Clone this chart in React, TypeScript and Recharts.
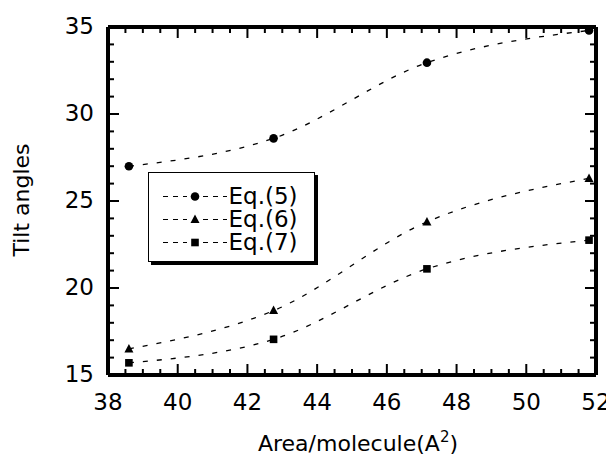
import React from 'react';
import { LineChart, Line, XAxis, YAxis, Legend } from 'recharts';

const FONT = '"DejaVu Sans", Verdana, sans-serif';

// Data
const areas = [38.6, 42.75, 47.15, 51.8];
const eq5 = [27.0, 28.6, 32.95, 34.8];
const eq6 = [16.5, 18.7, 23.8, 26.3];
const eq7 = [15.7, 17.05, 21.1, 22.75];
const seriesNames = ['Eq.(5)', 'Eq.(6)', 'Eq.(7)'];
const seriesKeys = ['eq5', 'eq6', 'eq7'];

// Tick values
const xTicks = [38, 38.5, 39, 39.5, 40, 40.5, 41, 41.5, 42, 42.5, 43, 43.5, 44, 44.5, 45, 45.5, 46, 46.5, 47, 47.5, 48, 48.5, 49, 49.5, 50, 50.5, 51, 51.5, 52];
const xLabelTicks = [38, 40, 42, 44, 46, 48, 50, 52];
const yTicks = [15, 16, 17, 18, 19, 20, 21, 22, 23, 24, 25, 26, 27, 28, 29, 30, 31, 32, 33, 34, 35];
const yLabelTicks = [15, 20, 25, 30, 35];

const data = areas.map((a, i) => ({ area: a, eq5: eq5[i], eq6: eq6[i], eq7: eq7[i] }));

const AX = { stroke: '#000', strokeWidth: 4 };

const marker = (i: number, cx: number, cy: number, key?: string) => {
  if (i === 0) return <circle key={key} cx={cx} cy={cy} r={4.3} fill="#000" />;
  if (i === 1)
    return (
      <polygon
        key={key}
        points={`${cx},${cy - 5} ${cx - 4.5},${cy + 3.5} ${cx + 4.5},${cy + 3.5}`}
        fill="#000"
      />
    );
  return <rect key={key} x={cx - 3.8} y={cy - 3.8} width={7.6} height={7.6} fill="#000" />;
};

const BottomTick = (p: any) => {
  const v = p.payload.value;
  const major = xLabelTicks.includes(v);
  return (
    <g>
      <line x1={p.x} x2={p.x} y1={p.y} y2={p.y - (major ? 11 : 6)} stroke="#000" strokeWidth={2} />
      {major && (
        <text x={p.x} y={p.y + 35} textAnchor="middle" fontSize={23}>
          {v}
        </text>
      )}
    </g>
  );
};

const TopTick = (p: any) => {
  const v = p.payload.value;
  const major = xLabelTicks.includes(v);
  return <line x1={p.x} x2={p.x} y1={p.y} y2={p.y + (major ? 11 : 6)} stroke="#000" strokeWidth={2} />;
};

const LeftTick = (p: any) => {
  const v = p.payload.value;
  const major = yLabelTicks.includes(v);
  return (
    <g>
      <line x1={p.x} x2={p.x + (major ? 11 : 6)} y1={p.y} y2={p.y} stroke="#000" strokeWidth={2} />
      {major && (
        <text x={p.x - 14} y={p.y + 7} textAnchor="end" fontSize={23}>
          {v}
        </text>
      )}
    </g>
  );
};

const RightTick = (p: any) => {
  const v = p.payload.value;
  const major = yLabelTicks.includes(v);
  return <line x1={p.x} x2={p.x - (major ? 11 : 6)} y1={p.y} y2={p.y} stroke="#000" strokeWidth={2} />;
};

const XLabel = (props: any) => {
  const vb = props.viewBox || {};
  return (
    <text x={vb.x + vb.width / 2 + 6} y={vb.y + 76} textAnchor="middle" fontSize={22}>
      <tspan>Area/molecule(A</tspan>
      <tspan dy={-9} fontSize={15}>2</tspan>
      <tspan dy={9}>)</tspan>
    </text>
  );
};

const YLabel = (props: any) => {
  const vb = props.viewBox || {};
  const cx = vb.x + 21;
  const cy = vb.y + vb.height / 2 - 1;
  return (
    <text x={cx} y={cy} transform={`rotate(-90 ${cx} ${cy})`} textAnchor="middle" fontSize={22}>
      Tilt angles
    </text>
  );
};

const LegendBox = () => (
  <div
    style={{
      border: '1.5px solid #000',
      boxShadow: '3px 3px 0 #000',
      background: '#fff',
      width: 167,
      height: 90,
      boxSizing: 'border-box',
      padding: '12px 0 0 13.5px',
      color: '#000',
    }}
  >
    {seriesNames.map((n, i) => (
      <div key={n} style={{ display: 'flex', alignItems: 'center', height: 23 }}>
        <svg width={64} height={23} style={{ display: 'block' }}>
          <line x1={0} x2={64} y1={11.5} y2={11.5} stroke="#000" strokeWidth={1.2} strokeDasharray="5 5" />
          <rect x={24} y={6} width={16} height={11} fill="#fff" />
          {marker(i, 32, 11.5)}
        </svg>
        <span style={{ fontSize: 23, lineHeight: '23px', marginLeft: 2, whiteSpace: 'nowrap' }}>{n}</span>
      </div>
    ))}
  </div>
);

export default function App() {
  return (
    <LineChart
      width={606}
      height={447}
      data={data}
      margin={{ top: 18, right: 17, bottom: 0, left: 0 }}
      style={{ fontFamily: FONT }}
    >
      <XAxis
        xAxisId="b"
        dataKey="area"
        type="number"
        domain={[38, 52]}
        ticks={xTicks}
        interval={0}
        tickSize={0}
        tickMargin={0}
        tickLine={false}
        axisLine={AX}
        tick={BottomTick}
        height={80}
        label={{ content: XLabel }}
      />
      <XAxis
        xAxisId="t"
        dataKey="area"
        type="number"
        orientation="top"
        domain={[38, 52]}
        ticks={xTicks}
        interval={0}
        tickSize={0}
        tickMargin={0}
        tickLine={false}
        axisLine={AX}
        tick={TopTick}
        height={1}
      />
      <YAxis
        yAxisId="l"
        type="number"
        domain={[15, 35]}
        ticks={yTicks}
        interval={0}
        tickSize={0}
        tickMargin={0}
        tickLine={false}
        axisLine={AX}
        tick={LeftTick}
        width={100}
        label={{ content: YLabel }}
      />
      <YAxis
        yAxisId="r"
        dataKey="eq5"
        type="number"
        orientation="right"
        domain={[15, 35]}
        ticks={yTicks}
        interval={0}
        tickSize={0}
        tickMargin={0}
        tickLine={false}
        axisLine={AX}
        tick={RightTick}
        width={1}
      />
      <Legend
        layout="vertical"
        align="center"
        verticalAlign="middle"
        content={<LegendBox />}
        wrapperStyle={{ left: 140, top: 164, width: 'auto' }}
      />
      {seriesKeys.map((k, i) => (
        <Line
          key={k}
          xAxisId="b"
          yAxisId="l"
          dataKey={k}
          name={seriesNames[i]}
          type="monotone"
          stroke="#000"
          strokeWidth={1.3}
          strokeDasharray="5 9"
          isAnimationActive={false}
          dot={(p: any) => marker(i, p.cx, p.cy, `${k}-${p.index}`)}
          activeDot={false}
        />
      ))}
    </LineChart>
  );
}
